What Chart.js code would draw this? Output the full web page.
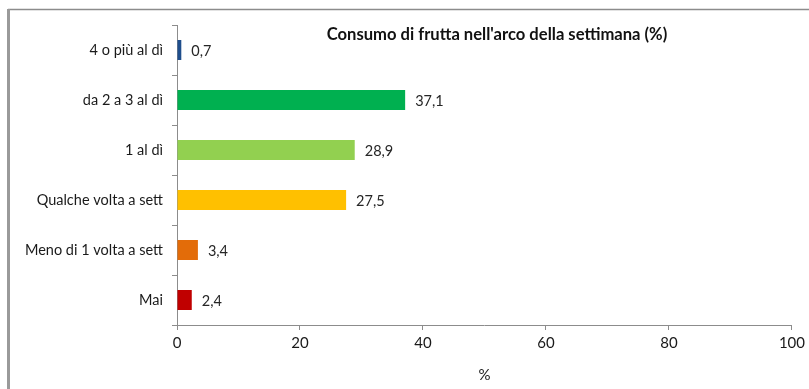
<!DOCTYPE html>
<html>
<head>
<meta charset="utf-8">
<script src="https://cdn.jsdelivr.net/npm/chart.js@4/dist/chart.umd.min.js"></script>
<style>
  html, body { margin: 0; padding: 0; background: #ffffff; }
  #wrap { width: 809px; height: 389px; position: relative; }
</style>
</head>
<body>
<div id="wrap"><canvas id="c" width="809" height="389"></canvas></div>
<script>
// Weekly fruit consumption, share of respondents (%)
const categories = ['4 o più al dì', 'da 2 a 3 al dì', '1 al dì', 'Qualche volta a sett', 'Meno di 1 volta a sett', 'Mai'];
const values = [0.7, 37.1, 28.9, 27.5, 3.4, 2.4];
const barColors = ['#1F4E8C', '#00B050', '#92D050', '#FFC000', '#E36C09', '#C00000'];
const xTicks = [0, 20, 40, 60, 80, 100];
const chartTitle = "Consumo di frutta nell'arco della settimana (%)";
const xAxisTitle = '%';

const FONT = 'Lato, "Open Sans", sans-serif';

// Frame lines, title and value labels
const decorations = {
  id: 'decorations',
  afterDraw(chart) {
    const ctx = chart.ctx;
    ctx.save();
    // outer frame: top rule and left rule
    ctx.strokeStyle = '#8c8c8c';
    ctx.lineWidth = 1.5;
    ctx.beginPath();
    ctx.moveTo(8, 9.5);
    ctx.lineTo(809, 9.5);
    ctx.stroke();
    ctx.fillStyle = '#9a9a9a';
    ctx.fillRect(7, 9, 3, 380);

    // title
    ctx.fillStyle = '#111111';
    ctx.font = 'bold 16.6px ' + FONT;
    ctx.textAlign = 'center';
    ctx.textBaseline = 'middle';
    ctx.fillText(chartTitle, 497, 35);

    // value labels next to each bar
    const meta = chart.getDatasetMeta(0);
    ctx.font = '14.5px ' + FONT;
    ctx.fillStyle = '#262626';
    ctx.textAlign = 'left';
    meta.data.forEach((bar, i) => {
      const txt = values[i].toFixed(1).replace('.', ',');
      ctx.fillText(txt, bar.x + 10, bar.y + 1);
    });
    ctx.restore();
  }
};

new Chart(document.getElementById('c'), {
  type: 'bar',
  data: {
    labels: categories,
    datasets: [{
      data: values,
      backgroundColor: barColors,
      borderWidth: 0,
      barPercentage: 0.8,
      categoryPercentage: 0.5
    }]
  },
  options: {
    indexAxis: 'y',
    responsive: false,
    animation: false,
    devicePixelRatio: 1,
    layout: { padding: { left: 0, right: 17, top: 25, bottom: 0 } },
    plugins: {
      legend: { display: false },
      title: { display: false },
      tooltip: { enabled: false }
    },
    scales: {
      x: {
        min: 0,
        max: 100,
        afterBuildTicks(scale) { scale.ticks = xTicks.map(v => ({ value: v })); },
        afterFit(scale) { scale.height = 64; },
        border: { display: true, color: '#8c8c8c', width: 1 },
        grid: { drawOnChartArea: false, drawTicks: true, tickLength: 5, color: '#8c8c8c' },
        ticks: { padding: 4, color: '#1a1a1a', font: { family: FONT, size: 15 }, maxRotation: 0 },
        title: {
          display: true,
          text: xAxisTitle,
          color: '#1a1a1a',
          font: { family: FONT, size: 15 },
          padding: { top: 0, bottom: 5 }
        }
      },
      y: {
        afterFit(scale) { scale.width = 177; },
        border: { display: true, color: '#8c8c8c', width: 1 },
        grid: { drawOnChartArea: false, drawTicks: true, tickLength: 5, color: '#8c8c8c', offset: true },
        ticks: { padding: 9, color: '#1a1a1a', font: { family: FONT, size: 14.5 } }
      }
    }
  },
  plugins: [decorations]
});
</script>
</body>
</html>
